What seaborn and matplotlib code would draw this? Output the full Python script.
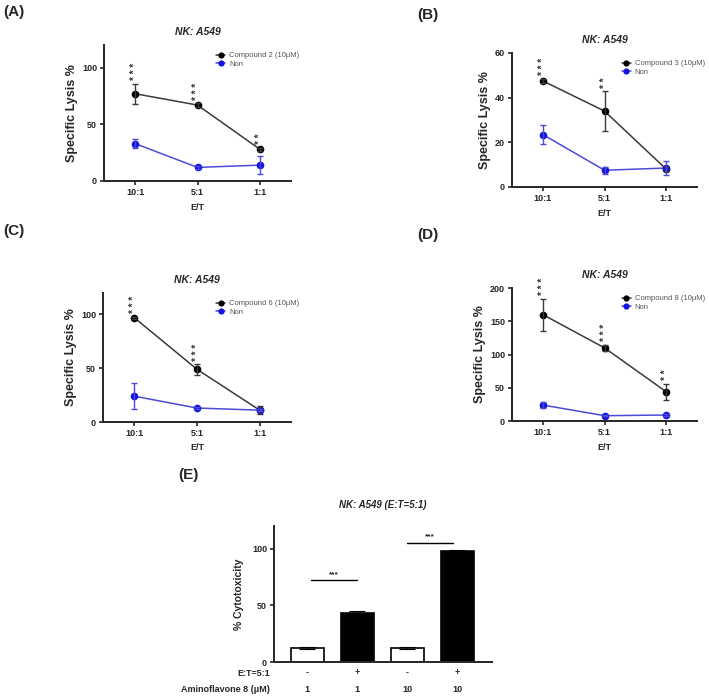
import numpy as np
import pandas as pd
import matplotlib
matplotlib.use('Agg')
import matplotlib.pyplot as plt
import seaborn as sns

sns.set_theme(style='ticks')
plt.rcParams['font.family'] = ['Liberation Sans', 'DejaVu Sans']
plt.rcParams['axes.linewidth'] = 1.4

# ---- data ----
et_labels = ['10:1', '5:1', '1:1']

# (A) compound 2
a_cmp = [77, 67, 28]
a_cmp_err = [9, 1.5, 1.5]
a_non = [33, 12, 14]
a_non_err = [4, 1, 8]
a_stars = ['***', '***', '**']

# (B) compound 3
b_cmp = [47.5, 34, 8]
b_cmp_err = [1, 9, 1]
b_non = [23.5, 7.5, 8.5]
b_non_err = [4.2, 1.6, 3.2]
b_stars = ['***', '**', '']

# (C) compound 6
c_cmp = [97, 49, 11]
c_cmp_err = [1, 5, 4]
c_non = [24, 13, 11]
c_non_err = [12, 1, 1]
c_stars = ['***', '***', '']

# (D) compound 8
d_cmp = [160, 110, 44]
d_cmp_err = [24, 5, 12]
d_non = [24, 8, 9]
d_non_err = [4, 1, 1]
d_stars = ['***', '***', '**']

# (E) bars
e_vals = [12.5, 43.5, 12.5, 98]
e_err = [0.8, 1.5, 0.8, 0.8]
e_et = ['-', '+', '-', '+']
e_dose = ['1', '1', '10', '10']

BLUE = '#1414e0'
BLUE_LINE = '#4b4bd8'
GRAY = '#3a3a3a'

W, H = 709, 696
fig = plt.figure(figsize=(W / 100, H / 100), dpi=100)


def box(l, r, t, b):
    return [l / W, 1 - b / H, (r - l) / W, (b - t) / H]


def line_panel(rect, cmp, cmp_err, non, non_err, stars, name, ymax, yticks, tag, tagpos):
    ax = fig.add_axes(box(*rect))
    x = np.arange(3)
    df = pd.DataFrame({'x': np.concatenate([x, x]),
                       'y': cmp + non,
                       'grp': [name] * 3 + ['Non'] * 3})
    sns.lineplot(data=df, x='x', y='y', hue='grp', palette=[GRAY, BLUE_LINE],
                 marker='o', markersize=5.5, linewidth=1.1, ax=ax,
                 markeredgewidth=0)
    ax.lines[0].set_markerfacecolor('black')
    ax.lines[1].set_markerfacecolor(BLUE)
    ax.errorbar(x, cmp, yerr=cmp_err, fmt='none', ecolor=GRAY, elinewidth=1, capsize=2.5, capthick=1)
    ax.errorbar(x, non, yerr=non_err, fmt='none', ecolor=BLUE_LINE, elinewidth=1, capsize=2.5, capthick=1)
    for xi, v, e, s in zip(x, cmp, cmp_err, stars):
        if s:
            ax.text(xi, v + e + ymax * 0.025, ' '.join(s), rotation=90, ha='center', va='bottom',
                    fontsize=7, fontweight='bold', color='#333333')
    ax.set_xlim(-0.5, 2.5)
    ax.set_ylim(0, ymax)
    ax.set_yticks(yticks)
    ax.set_xticks(x)
    ax.set_xticklabels(et_labels)
    ax.tick_params(axis='both', labelsize=6.5, length=3, width=1.2, pad=2)
    for lab in ax.get_xticklabels() + ax.get_yticklabels():
        lab.set_fontweight('bold')
    ax.set_xlabel('E/T', fontsize=6.5, fontweight='bold', labelpad=4)
    ax.set_ylabel('Specific Lysis %', fontsize=9, fontweight='bold', labelpad=3)
    ax.set_title('NK: A549', fontsize=7.5, fontweight='bold', style='italic', pad=7)
    sns.despine(ax=ax)
    leg = ax.legend(loc='upper right', bbox_to_anchor=(1.08, 1.0), frameon=False, fontsize=5.5,
                    handlelength=1.2, handletextpad=0.5, labelspacing=0.2, markerfirst=True)
    for t in leg.get_texts():
        t.set_color('#555555')
    for h, c in zip(leg.legend_handles, ['black', BLUE]):
        h.set_markerfacecolor(c)
        h.set_markeredgewidth(0)
        h.set_markersize(4.5)
    fig.text(tagpos[0] / W, 1 - tagpos[1] / H, tag, fontsize=11, fontweight='bold',
             ha='left', va='center')
    return ax


line_panel((104, 291, 45, 181), a_cmp, a_cmp_err, a_non, a_non_err, a_stars,
           'Compound 2 (10\u03bcM)', 120, [0, 50, 100], '(A)', (3, 12))
line_panel((512, 697, 53, 187), b_cmp, b_cmp_err, b_non, b_non_err, b_stars,
           'Compound 3 (10\u03bcM)', 60, [0, 20, 40, 60], '(B)', (417, 15))
line_panel((103, 291, 293, 422), c_cmp, c_cmp_err, c_non, c_non_err, c_stars,
           'Compound 6 (10\u03bcM)', 120, [0, 50, 100], '(C)', (3, 231))
line_panel((512, 697, 288, 421), d_cmp, d_cmp_err, d_non, d_non_err, d_stars,
           'Compound 8 (10\u03bcM)', 200, [0, 50, 100, 150, 200], '(D)', (417, 235))

# ---- panel E ----
ax = fig.add_axes(box(274, 492, 526, 662))
pos = [0, 1, 2, 3]
sns.barplot(x=pos, y=e_vals, hue=pos, palette=['white', 'black', 'white', 'black'],
            legend=False, edgecolor='black', linewidth=1.2, width=0.66, ax=ax, order=pos)
ax.errorbar(pos, e_vals, yerr=e_err, fmt='none', ecolor='black', elinewidth=0.8, capsize=6, capthick=0.8)
ax.set_xlim(-0.66, 3.7)
ax.set_ylim(0, 120)
ax.set_yticks([0, 50, 100])
ax.set_xticks([])
ax.tick_params(axis='y', labelsize=6.5, length=3, width=1.2, pad=2)
for lab in ax.get_yticklabels():
    lab.set_fontweight('bold')
ax.set_ylabel('% Cytotoxicity', fontsize=7.5, fontweight='bold', labelpad=6)
ax.set_title('NK: A549 (E:T=5:1)', fontsize=7, fontweight='bold', style='italic', pad=13)
sns.despine(ax=ax)
for x0, x1, y in [(0.08, 1.0, 72), (2.0, 2.92, 105)]:
    ax.plot([x0, x1], [y, y], color='black', linewidth=1)
    ax.text((x0 + x1) / 2, y + 2, '***', ha='center', va='bottom', fontsize=6, fontweight='bold')

trans = ax.get_xaxis_transform()
for p, s, d in zip(pos, e_et, e_dose):
    ax.text(p, -0.08, s, transform=trans, ha='center', va='center', fontsize=6.5, fontweight='bold')
    ax.text(p, -0.2, d, transform=trans, ha='center', va='center', fontsize=6.5, fontweight='bold')
fig.text(270 / W, 1 - 673 / H, 'E:T=5:1', ha='right', va='center', fontsize=6.5, fontweight='bold')
fig.text(270 / W, 1 - 689 / H, 'Aminoflavone 8 (\u03bcM)', ha='right', va='center', fontsize=6.5, fontweight='bold')
fig.text(178 / W, 1 - 475 / H, '(E)', fontsize=11, fontweight='bold', ha='left', va='center')

fig.savefig('out.png', dpi=100)
